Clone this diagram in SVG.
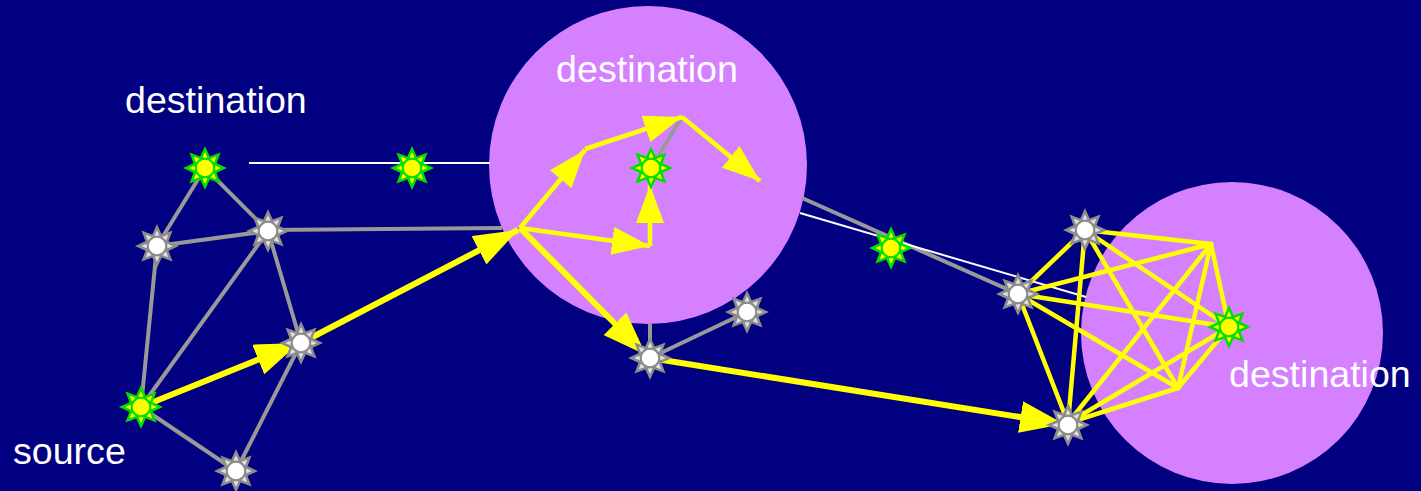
<svg xmlns="http://www.w3.org/2000/svg" xmlns:xlink="http://www.w3.org/1999/xlink" width="1421" height="491" viewBox="0 0 1421 491">
<style>
.bg{fill:#000080}
.region{fill:#d580ff}
.gray{stroke:#999999;stroke-width:4;fill:none}
.white{stroke:#ffffff;stroke-width:2;fill:none}
.yt{stroke:#ffff00;stroke-width:6;fill:none}
.ym{stroke:#ffff00;stroke-width:4.5;fill:none}
.yk{stroke:#ffff00;stroke-width:4.5;fill:none;stroke-linecap:round}
.lbl{font-family:"Liberation Sans",Arial,sans-serif;font-size:37.6px;fill:#ffffff}
.sg{fill:#ffff00;stroke:#00e000;stroke-width:2.5;stroke-linejoin:miter}
.sw{fill:#e0e0e0;stroke:#8c8c8c;stroke-width:2.5;stroke-linejoin:miter}
.cg{fill:#ffff00;stroke:#00e000;stroke-width:1.5}
.cw{fill:#ffffff;stroke:#8c8c8c;stroke-width:1.5}
</style>
<defs>
<marker id="ahT" markerUnits="userSpaceOnUse" markerWidth="44" markerHeight="32" viewBox="0 0 44 32" refX="44" refY="16" orient="auto"><path d="M0,0 L44,16 L0,32 Z" fill="#ffff00"/></marker>
<marker id="ahM" markerUnits="userSpaceOnUse" markerWidth="38" markerHeight="28" viewBox="0 0 38 28" refX="38" refY="14" orient="auto"><path d="M0,0 L38,14 L0,28 Z" fill="#ffff00"/></marker>
<g id="spikes">
<polygon points="-4.5,-9 0,-19 4.5,-9"/>
<polygon points="-4.5,-9 0,-19 4.5,-9" transform="rotate(45)"/>
<polygon points="-4.5,-9 0,-19 4.5,-9" transform="rotate(90)"/>
<polygon points="-4.5,-9 0,-19 4.5,-9" transform="rotate(135)"/>
<polygon points="-4.5,-9 0,-19 4.5,-9" transform="rotate(180)"/>
<polygon points="-4.5,-9 0,-19 4.5,-9" transform="rotate(225)"/>
<polygon points="-4.5,-9 0,-19 4.5,-9" transform="rotate(270)"/>
<polygon points="-4.5,-9 0,-19 4.5,-9" transform="rotate(315)"/>
</g>
<g id="starG"><use xlink:href="#spikes" class="sg"/><circle r="9" class="cg"/></g>
<g id="starW"><use xlink:href="#spikes" class="sw"/><circle r="9" class="cw"/></g>
</defs>
<rect class="bg" x="0" y="0" width="1421" height="491"/>
<g id="region-middle"><circle class="region" cx="648" cy="165" r="159"/></g>
<g id="region-right"><circle class="region" cx="1232" cy="333" r="151"/></g>
<g id="connectors">
<line class="gray" x1="205" y1="168" x2="157" y2="246"/>
<line class="gray" x1="205" y1="168" x2="268" y2="231"/>
<line class="gray" x1="157" y1="246" x2="268" y2="231"/>
<line class="gray" x1="157" y1="246" x2="141" y2="407"/>
<line class="gray" x1="268" y1="231" x2="141" y2="407"/>
<line class="gray" x1="268" y1="231" x2="301" y2="343"/>
<line class="gray" x1="141" y1="407" x2="236" y2="471"/>
<line class="gray" x1="236" y1="471" x2="301" y2="343"/>
<line class="gray" x1="268" y1="230" x2="502" y2="228"/>
<line class="white" x1="249" y1="163" x2="490" y2="163"/>
<line class="gray" x1="651" y1="168" x2="682" y2="117"/>
<line class="gray" x1="650" y1="324" x2="650" y2="358"/>
<line class="gray" x1="747" y1="312" x2="650" y2="358"/>
<line class="gray" x1="802" y1="198" x2="1018" y2="294"/>
<line class="white" x1="800" y1="213" x2="1086" y2="297"/>
<line class="yt" x1="141" y1="407" x2="299" y2="343" marker-end="url(#ahT)"/>
<line class="yt" x1="301" y1="343" x2="518" y2="230" marker-end="url(#ahT)"/>
<line class="yt" x1="520" y1="228" x2="646" y2="355" marker-end="url(#ahT)"/>
<line class="yt" x1="650" y1="358" x2="1064" y2="424" marker-end="url(#ahT)"/>
<line class="ym" x1="520" y1="228" x2="585" y2="150" marker-end="url(#ahM)"/>
<line class="ym" x1="585" y1="149" x2="682" y2="117" marker-end="url(#ahM)"/>
<line class="ym" x1="682" y1="117" x2="760" y2="181" marker-end="url(#ahM)"/>
<line class="ym" x1="520" y1="228" x2="650" y2="246" marker-end="url(#ahM)"/>
<line class="ym" x1="650" y1="246" x2="650" y2="185" marker-end="url(#ahM)"/>
<g id="mesh">
<line class="yk" x1="1085" y1="230" x2="1211" y2="244"/>
<line class="yk" x1="1085" y1="230" x2="1018" y2="294"/>
<line class="yk" x1="1085" y1="230" x2="1229" y2="327"/>
<line class="yk" x1="1085" y1="230" x2="1178" y2="388"/>
<line class="yk" x1="1085" y1="230" x2="1068" y2="423"/>
<line class="yk" x1="1211" y1="244" x2="1018" y2="294"/>
<line class="yk" x1="1211" y1="244" x2="1229" y2="327"/>
<line class="yk" x1="1211" y1="244" x2="1178" y2="388"/>
<line class="yk" x1="1211" y1="244" x2="1068" y2="423"/>
<line class="yk" x1="1018" y1="294" x2="1229" y2="327"/>
<line class="yk" x1="1018" y1="294" x2="1178" y2="388"/>
<line class="yk" x1="1018" y1="294" x2="1068" y2="423"/>
<line class="yk" x1="1229" y1="327" x2="1178" y2="388"/>
<line class="yk" x1="1229" y1="327" x2="1068" y2="423"/>
<line class="yk" x1="1178" y1="388" x2="1068" y2="423"/>
</g>
</g>
<g id="n-g1"><use xlink:href="#starG" x="205" y="168"/></g>
<g id="n-w1"><use xlink:href="#starW" x="157" y="246"/></g>
<g id="n-w2"><use xlink:href="#starW" x="268" y="231"/></g>
<g id="n-w3"><use xlink:href="#starW" x="301" y="343"/></g>
<g id="n-source"><use xlink:href="#starG" x="141" y="407"/></g>
<g id="n-w4"><use xlink:href="#starW" x="236" y="471"/></g>
<g id="n-g2"><use xlink:href="#starG" x="412" y="168"/></g>
<g id="n-gmid"><use xlink:href="#starG" x="651" y="168"/></g>
<g id="n-w5"><use xlink:href="#starW" x="650" y="358"/></g>
<g id="n-w6"><use xlink:href="#starW" x="747" y="312"/></g>
<g id="n-g3"><use xlink:href="#starG" x="891" y="248"/></g>
<g id="n-a"><use xlink:href="#starW" x="1085" y="230"/></g>
<g id="n-c"><use xlink:href="#starW" x="1018" y="294"/></g>
<g id="n-d"><use xlink:href="#starG" x="1229" y="327"/></g>
<g id="n-f"><use xlink:href="#starW" x="1068" y="425"/></g>
<g id="labels">
<text class="lbl" x="125" y="113">destination</text>
<text class="lbl" x="647" y="82" text-anchor="middle">destination</text>
<text class="lbl" x="1229" y="387">destination</text>
<text class="lbl" x="13" y="464">source</text>
</g>
</svg>
